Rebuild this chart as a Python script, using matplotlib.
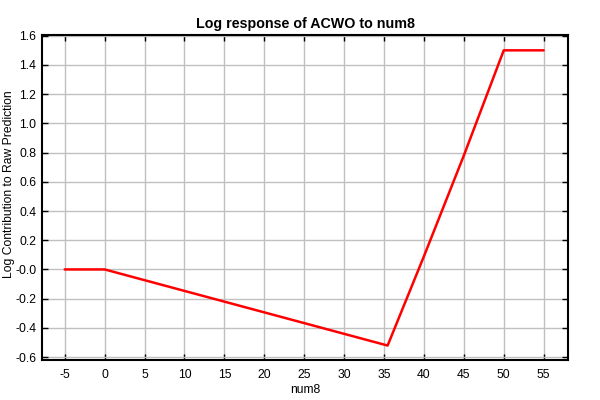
import matplotlib
matplotlib.use("Agg")
import matplotlib.pyplot as plt

# Data
num8 = [-5, 0, 35.45, 40, 45, 50, 55]
log_contrib = [0.0, 0.0, -0.521, 0.09, 0.78, 1.5, 1.5]

x_ticks = [-5, 0, 5, 10, 15, 20, 25, 30, 35, 40, 45, 50, 55]
y_ticks = [-0.6, -0.4, -0.2, 0.0, 0.2, 0.4, 0.6, 0.8, 1.0, 1.2, 1.4, 1.6]
y_tick_labels = ["-0.6", "-0.4", "-0.2", "-0.0", "0.2", "0.4", "0.6", "0.8",
                 "1.0", "1.2", "1.4", "1.6"]

plt.rcParams['font.family'] = ['Liberation Sans', 'DejaVu Sans']

fig = plt.figure(figsize=(6, 4), dpi=100)
ax = fig.add_axes([42/600, 1 - 360/400, (568 - 42)/600, (360 - 35)/400])

ax.plot(num8, log_contrib, color='#ff0000', linewidth=1.8, solid_capstyle='round',
        solid_joinstyle='round', zorder=3)

ax.set_xlim(-7.85, 58.05)
ax.set_ylim(-0.62, 1.605)
ax.set_xticks(x_ticks)
ax.set_xticklabels([str(t) for t in x_ticks])
ax.set_yticks(y_ticks)
ax.set_yticklabels(y_tick_labels)

ax.grid(True, color='#c0c0c0', linewidth=1.0)
ax.set_axisbelow(True)

ax.tick_params(axis='both', direction='in', length=4, width=1, labelsize=8.7,
               top=True, right=True, colors='black')
ax.tick_params(axis='x', pad=6.5)
ax.tick_params(axis='y', pad=4)
for s in ax.spines.values():
    s.set_linewidth(1.5)
    s.set_color('black')

ax.set_title("Log response of ACWO to num8", fontsize=10.3, fontweight='bold', pad=5)
ax.set_xlabel("num8", fontsize=8.7, labelpad=2)
ax.set_ylabel("Log Contribution to Raw Prediction", fontsize=8.7)
ax.yaxis.set_label_coords(-0.052, 0.54)

fig.savefig("out.png", dpi=100)
